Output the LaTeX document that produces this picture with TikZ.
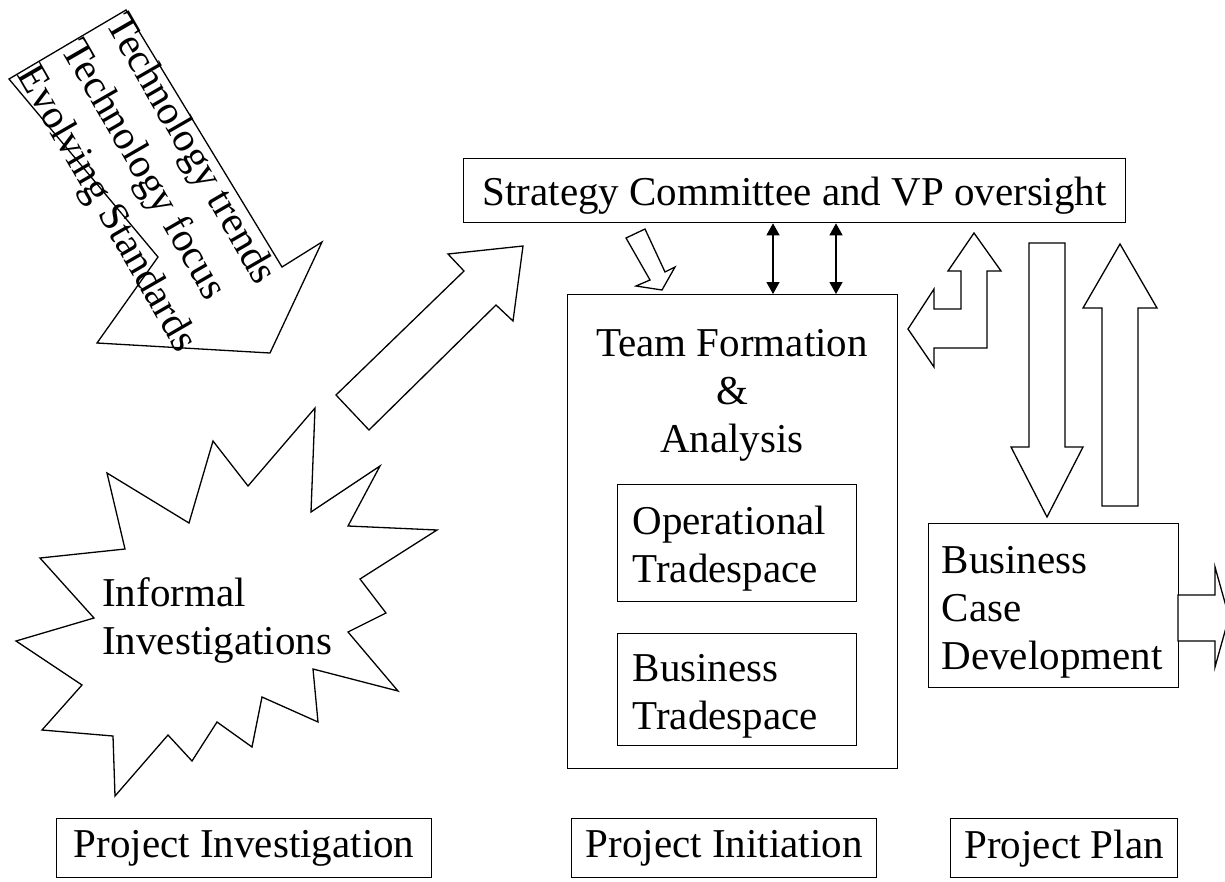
\documentclass[tikz,border=0pt]{standalone}
\usepackage{fontspec}
\setmainfont{Liberation Serif}
\usetikzlibrary{arrows.meta}
\tikzset{
  box/.style={draw,line width=1.3pt,inner sep=0pt},
  blockarrow/.style={draw,line width=1.3pt,line join=miter,fill=white},
  txt/.style={font=\fontsize{41}{48}\selectfont},
  link/.style={line width=1.3pt,{Triangle[width=13pt,length=12pt]}-{Triangle[width=13pt,length=12pt]}}
}

\begin{document}
\begin{tikzpicture}[x=1pt,y=-1pt]
\path[use as bounding box] (0,0) rectangle (1225,881);
\clip (0,0) rectangle (1225,881);
% incoming trends
\draw[blockarrow] (126,10) -- (282,267) -- (322,242) -- (270,353) -- (97,343) -- (158,257) -- (9,79) -- cycle;
\node[font=\fontsize{41}{51}\selectfont,rotate=-60,align=left,inner sep=0pt] (trends) at (150,184) {Technology trends\\Technology focus\\Evolving Standards};
% starburst
\draw[blockarrow] (315,408) -- (311,512) -- (380,466) -- (348,526) -- (437,530) -- (360,579) -- (386,613) -- (348,632)
  -- (398,691) -- (313,669) -- (318,722) -- (262,697) -- (252,747) -- (217,722) -- (192,761) -- (168,735)
  -- (115,796) -- (113,736) -- (42,730) -- (82,685) -- (16,641) -- (94,618) -- (40,558) -- (125,549)
  -- (107,473) -- (189,523) -- (213,441) -- (248,486) -- cycle;
\node[txt,align=left,anchor=north west,inner sep=0pt] (informal) at (102,577) {Informal\\Investigations};
\draw[blockarrow] (336,395) -- (464,271) -- (448,254) -- (523,246) -- (513,321) -- (496,305) -- (369,430) -- cycle;
% boxes
\node[box,txt,anchor=north west,minimum width=662pt,minimum height=64pt,text height=32pt,text depth=2pt] (strat) at (463,158) {Strategy Committee and VP oversight};
\node[box,anchor=north west,minimum width=330pt,minimum height=474pt] (team) at (567,294) {};
\node[txt,align=center,anchor=north,inner sep=0pt] (teamtxt) at (732,329) {Team Formation\\\&\\Analysis};
\node[box,txt,anchor=north west,minimum height=117pt,text width=209pt,text height=40pt,inner xsep=15pt,align=left] (ops) at (617,484) {Operational\\Tradespace};
\node[box,txt,anchor=north west,minimum height=112pt,text width=209pt,text height=40pt,inner xsep=15pt,align=left] (biz) at (617,633) {Business\\Tradespace};
\node[box,txt,anchor=north west,minimum height=164pt,text width=224pt,text height=40pt,inner xsep=13pt,align=left] (bcase) at (928,523) {Business\\Case\\Development};
% links to committee
\coordinate (la) at (773,0);
\coordinate (lb) at (836,0);
\draw[link] (strat.south -| la) -- (team.north -| la);
\draw[link] (strat.south -| lb) -- (team.north -| lb);
\draw[blockarrow] (626,238) -- (645,229) -- (665,272) -- (675,267) -- (662,290) -- (636,286) -- (650,280) -- cycle;
\draw[blockarrow] (974,233) -- (1001,271) -- (987,271) -- (987,348) -- (934,348) -- (934,367) -- (908,329) -- (934,289)
  -- (934,309) -- (961,309) -- (961,271) -- (948,271) -- cycle;
\draw[blockarrow] (1029,243) -- (1065,243) -- (1065,447) -- (1083,447) -- (1047,517) -- (1011,447) -- (1029,447) -- cycle;
\draw[blockarrow] (1120,244) -- (1157,308) -- (1138,308) -- (1138,506) -- (1102,506) -- (1102,308) -- (1083,308) -- cycle;
\draw[blockarrow] (1178,595) -- (1215,595) -- (1215,567) -- (1229,617) -- (1215,667) -- (1215,641) -- (1178,641) -- cycle;
% phases
\node[box,txt,anchor=north west,minimum width=375pt,minimum height=59pt] (inv) at (56,818) {Project Investigation};
\node[box,txt,anchor=north west,minimum width=305pt,minimum height=59pt] (init) at (571,818) {Project Initiation};
\node[box,txt,anchor=north west,minimum width=227pt,minimum height=59pt] (plan) at (950,818) {Project Plan};
\end{tikzpicture}
\end{document}
